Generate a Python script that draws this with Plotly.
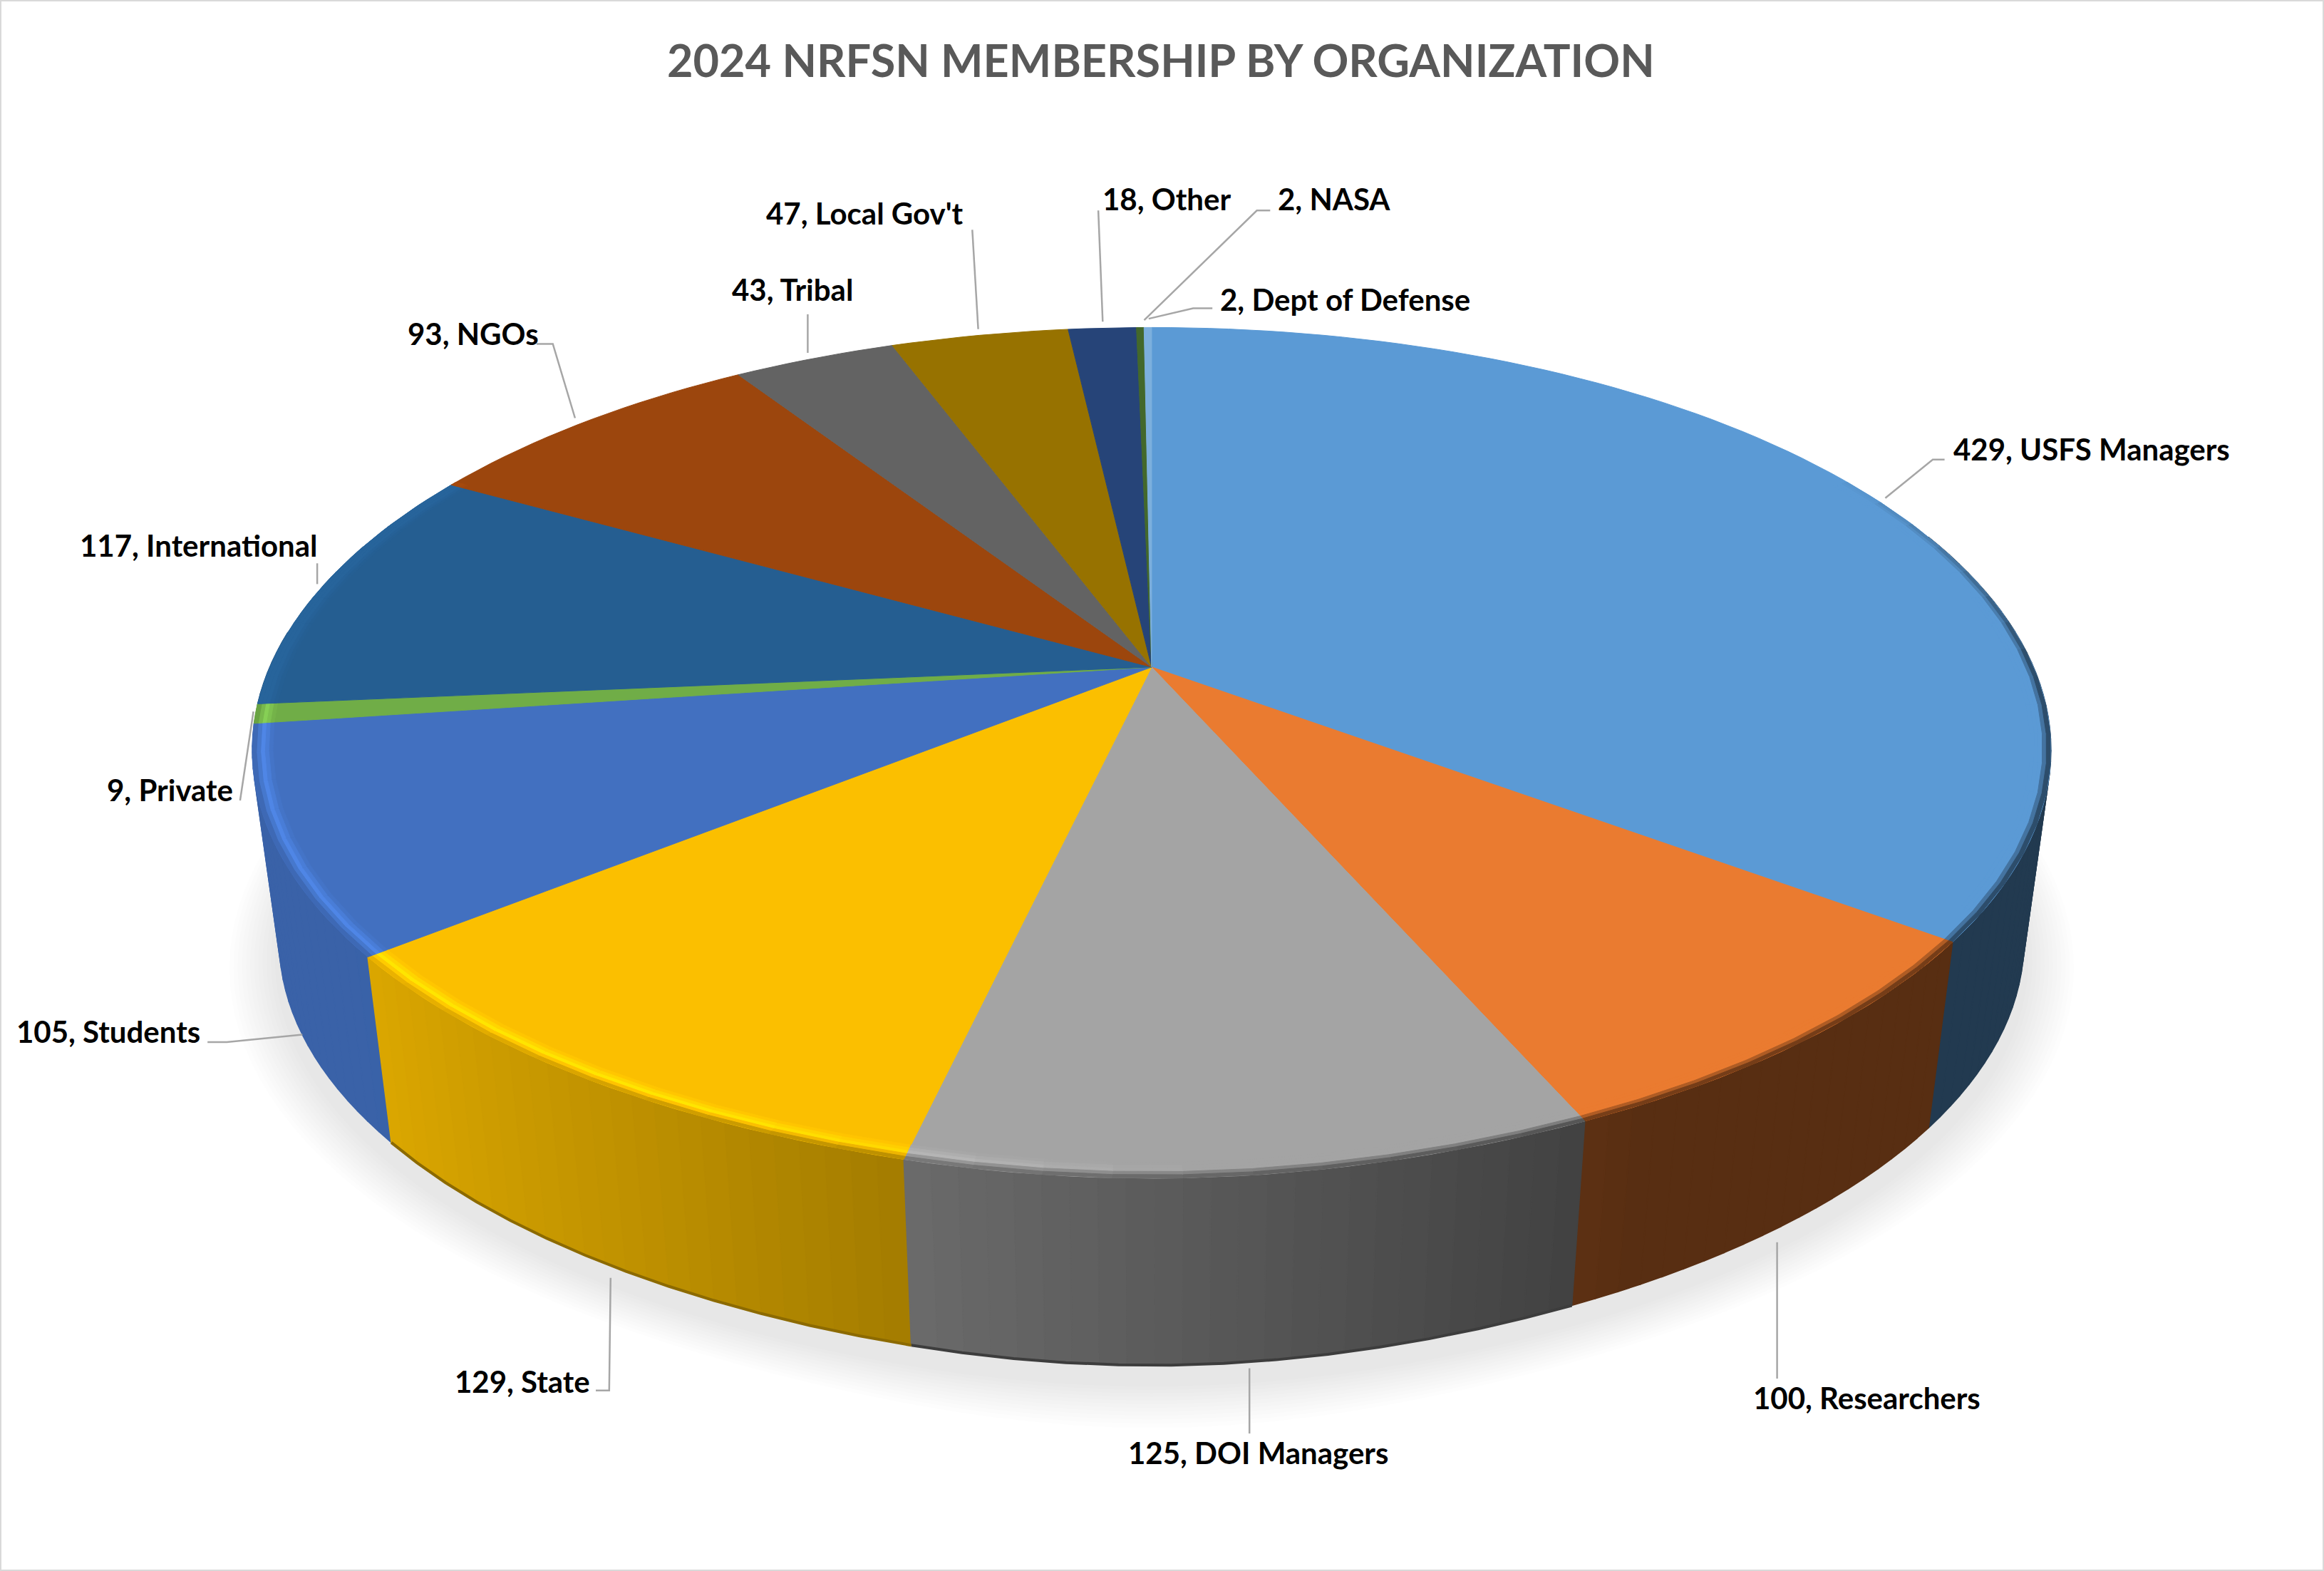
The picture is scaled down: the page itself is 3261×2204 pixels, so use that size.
import numpy as np
import plotly.graph_objects as go

# Data
categories = ["USFS Managers", "Researchers", "DOI Managers", "State", "Students", "Private",
              "International", "NGOs", "Tribal", "Local Gov't", "Other", "NASA", "Dept of Defense"]
members = [429, 100, 125, 129, 105, 9, 117, 93, 43, 47, 18, 2, 2]
title_text = "2024 NRFSN MEMBERSHIP BY ORGANIZATION"

colors = ["#5b9ad5", "#ea7b30", "#a4a4a4", "#fbbf00", "#4270c0", "#70ad47", "#255e91",
          "#9c460d", "#636363", "#977200", "#264478", "#43682b", "#7cafdd"]

W, H = 3261, 2204
S = W / 1568  # label positions below were read at 1568 wide

# disk projection
CX, CY = 777 * S, 450 * S
A, B, K = 595 * S, 274 * S, 0.196
# the wall bottom is the rim pulled towards a vanishing point far below
VY, SHRINK = 4800 * S, 0.97


def top_xy(t, r=1.0):
    u, v = r * np.sin(t), r * np.cos(t)
    w = 1 + K * v
    # rim bulges a little at the very front
    bulge = 4 * S * np.exp(-(u / 0.3) ** 2) * (v < 0) * r ** 20
    return CX + A * u / w, CY - B * v / w + bulge


def bottom_xy(t, r=1.0):
    x, y = top_xy(t, r)
    u, v = np.sin(t), np.cos(t)
    extra = 6 * S * np.exp(-(u / 0.5) ** 2) * (v < 0)
    return CX + SHRINK * (x - CX), VY + SHRINK * (y - VY) + extra


def rgb(c):
    return np.array([int(c[i:i + 2], 16) for i in (1, 3, 5)], dtype=float)


def css(c):
    c = np.clip(c, 0, 255)
    return f"rgb({int(c[0])},{int(c[1])},{int(c[2])})"


def mix(a, b, t):
    return a + (b - a) * t


def wall_factor(u):
    return float(np.clip(0.67 - 0.40 * (u + 0.27), 0.38, 0.88))


def arc(a, b, step):
    n = max(1, int(np.ceil((b - a) / step)))
    return np.linspace(a, b, n + 1)


def poly(fig, x, y, color, line=1.5):
    fig.add_trace(go.Scatter(x=list(x), y=list(y), mode="lines", fill="toself", fillcolor=color,
                             line=dict(color=color, width=line), hoverinfo="skip", showlegend=False))


fig = go.Figure()

angles = 2 * np.pi * np.concatenate([[0], np.cumsum(members)]) / sum(members)

# soft shadow under the pie
ring = np.linspace(0, 2 * np.pi, 181)
for r in np.linspace(1.055, 1.005, 12):
    x, y = bottom_xy(ring, r)
    fig.add_trace(go.Scatter(x=x, y=y + 12 * S, mode="lines", fill="toself",
                             fillcolor="rgba(0,0,0,0.0095)", line=dict(width=0),
                             hoverinfo="skip", showlegend=False))

# side wall, cut in thin strips so it can be shaded across; back strips first
WALL_FROM, WALL_TO = np.radians(70), np.radians(275)
strips = []
for i, c in enumerate(colors):
    a, b = max(angles[i], WALL_FROM), min(angles[i + 1], WALL_TO)
    if b <= a:
        continue
    ts = arc(a, b, np.radians(1.5))
    strips += [(t0, t1, rgb(c)) for t0, t1 in zip(ts[:-1], ts[1:])]
for t0, t1, base in sorted(strips, key=lambda s: -np.cos((s[0] + s[1]) / 2)):
    col = css(base * wall_factor(np.sin((t0 + t1) / 2)))
    x0, y0 = top_xy(np.array([t0, t1]))
    x1, y1 = bottom_xy(np.array([t1, t0]))
    poly(fig, np.r_[x0, x1, x0[0]], np.r_[y0, y1, y0[0]], col)

# darker line along the foot of the wall, only the DOI and State slices have it
for i in (2, 3):
    ts = arc(angles[i], angles[i + 1], np.radians(3))
    bx, by = bottom_xy(ts)
    foot = rgb(colors[i]) * wall_factor(np.sin((angles[i] + angles[i + 1]) / 2)) * 0.72
    fig.add_trace(go.Scatter(x=bx, y=by, mode="lines", line=dict(color=css(foot), width=4),
                             hoverinfo="skip", showlegend=False))

# top face
for i, c in enumerate(colors):
    ts = arc(angles[i], angles[i + 1], np.radians(1.5))
    x, y = top_xy(ts)
    poly(fig, np.r_[CX, x, CX], np.r_[CY, y, CY], c, line=1)

# bevel along the rim
BANDS = np.linspace(0.978, 1.0, 6)
RIM_FROM, RIM_TO = np.radians(60), np.radians(300)
for i, c in enumerate(colors):
    a, b = max(angles[i], RIM_FROM), min(angles[i + 1], RIM_TO)
    if b <= a:
        continue
    base = rgb(c)
    ts = arc(a, b, np.radians(4))
    for t0, t1 in zip(ts[:-1], ts[1:]):
        tm = (t0 + t1) / 2
        u = np.sin(tm)
        glow = float(np.clip((-u + 0.05) / 0.45, 0, 1))
        if tm > np.radians(264):
            glow *= 0.35
        peak = mix(base, base * 1.2, glow)
        outer = base * wall_factor(u)
        if tm < np.radians(90):
            outer = mix(base, outer, np.clip((np.degrees(tm) - 60) / 30, 0, 1))
        if tm > np.radians(264):
            outer = peak
        for j in range(5):
            s = (j + 0.5) / 5
            col = mix(base, peak, s / 0.5) if s < 0.5 else mix(peak, outer, (s - 0.5) / 0.5)
            x0, y0 = top_xy(np.array([t0, t1]), BANDS[j])
            x1, y1 = top_xy(np.array([t1, t0]), BANDS[j + 1])
            poly(fig, np.r_[x0, x1, x0[0]], np.r_[y0, y1, y0[0]], css(col), line=1)

# labels and their leader lines
label_pos = [(1317, 303), (1182, 943), (760, 980), (306, 932), (10, 696), (71, 533), (53, 368),
             (274, 225), (493, 195), (516, 144), (743, 134), (861, 134), (822, 202)]
leaders = [
    [(1272, 336), (1304, 310), (1312, 310)],
    [(1199, 838), (1199, 930)],
    [(843, 923), (843, 967)],
    [(412, 862), (411, 938), (402, 938)],
    [(204, 698), (153, 703), (140, 703)],
    [(171, 480), (162, 540)],
    [(214, 394), (214, 380)],
    [(388, 282), (373, 232), (362, 232)],
    [(545, 238), (545, 212)],
    [(660, 222), (656, 155)],
    [(744, 217), (741, 142)],
    [(772, 216), (848, 142), (857, 142)],
    [(775, 215), (805, 208), (818, 208)],
]

shapes = [dict(type="rect", xref="paper", yref="paper", x0=0, y0=0, x1=1, y1=1,
               line=dict(color="#d9d9d9", width=4), fillcolor="rgba(0,0,0,0)")]
for pts in leaders:
    path = "M " + " L ".join(f"{px * S:.1f},{py * S:.1f}" for px, py in pts)
    shapes.append(dict(type="path", path=path, xref="x", yref="y",
                       line=dict(color="#a6a6a6", width=2.5)))

annotations = []
for name, val, (lx, ly) in zip(categories, members, label_pos):
    annotations.append(dict(x=lx * S, y=ly * S, xref="x", yref="y", xanchor="left", yanchor="middle",
                            text=f"<b>{val}, {name}</b>", showarrow=False,
                            font=dict(family="Lato", size=42, color="black", weight=900)))
annotations.append(dict(x=783.5 * S, y=40 * S, xref="x", yref="y", xanchor="center", yanchor="middle",
                        text=f"<b>{title_text}</b>", showarrow=False,
                        font=dict(family="Lato", size=63, color="#595959", weight=900)))

fig.update_layout(
    width=W, height=H,
    margin=dict(l=0, r=0, t=0, b=0),
    paper_bgcolor="white", plot_bgcolor="white",
    xaxis=dict(range=[0, W], visible=False, fixedrange=True),
    yaxis=dict(range=[H, 0], visible=False, fixedrange=True),
    shapes=shapes, annotations=annotations, showlegend=False,
)

fig.write_html("out.html", config=dict(displayModeBar=False),
               post_script="document.body.style.margin='0';")
